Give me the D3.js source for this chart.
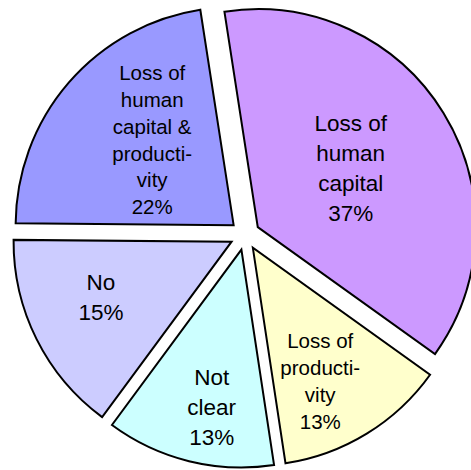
<!DOCTYPE html>
<html>
<head>
<meta charset="utf-8">
<script src="https://cdn.jsdelivr.net/npm/d3@7"></script>
<style>
  body { margin: 0; background: white; }
  text { font-family: "Liberation Sans", Arial, sans-serif; fill: #000; }
</style>
</head>
<body>
<div id="chart"></div>
<script>
// slice data, clockwise from the top
var categories = ["Loss of human capital", "Loss of productivity", "Not clear", "No", "Loss of human capital & productivity"];
var shares = [37.3, 12.7, 12.5, 15.0, 22.4];
var labelLines = [
  ["Loss of", "human", "capital"],
  ["Loss of", "producti-", "vity"],
  ["Not", "clear"],
  ["No"],
  ["Loss of", "human", "capital &", "producti-", "vity"]
];

var colors = ["#cc99ff", "#ffffcc", "#ccffff", "#ccccff", "#9999ff"];
// label layout: distance from slice tip, turn from bisector (deg), font size, line height
var labelDist = [110, 149, 160, 142, 118];
var labelTurn = [-0.8, 4.6, -3.2, 3.5, 5.5];
var fontSize = [22.5, 20.5, 22.5, 22.5, 20.5];
var lineHeight = [30, 27, 30, 30, 26.8];

var svgWidth = 471;
var svgHeight = 470;
var cx = 245, cy = 235;
var radius = 218;
var explode = 15;

var svg = d3.select("#chart")
  .append("svg")
  .attr("width", svgWidth)
  .attr("height", svgHeight)
  .attr("style", "background-color: white");

var data = categories.map(function(c, i) {
  return { name: c, value: shares[i], lines: labelLines[i], i: i };
});
var total = d3.sum(shares);

var startAngle = -8.8 * Math.PI / 180;
var pie = d3.pie()
  .sort(null)
  .value(d => d.value)
  .startAngle(startAngle)
  .endAngle(startAngle + 2 * Math.PI);

var arc = d3.arc().innerRadius(0).outerRadius(radius);

var arcs = pie(data);

var g = svg.append("g")
  .attr("transform", `translate(${cx}, ${cy})`);

function mid(d) {
  return (d.startAngle + d.endAngle) / 2;
}

var slices = g.selectAll("g.slice")
  .data(arcs)
  .enter()
  .append("g")
  .attr("class", "slice")
  .attr("transform", function(d) {
    var a = mid(d);
    return `translate(${Math.sin(a) * explode}, ${-Math.cos(a) * explode})`;
  });

slices.append("path")
  .attr("d", arc)
  .attr("fill", d => colors[d.data.i])
  .attr("stroke", "#000")
  .attr("stroke-width", 2)
  .attr("stroke-linejoin", "miter");

// labels
slices.each(function(d) {
  var i = d.data.i;
  var a = mid(d) + labelTurn[i] * Math.PI / 180;
  var lx = Math.sin(a) * labelDist[i];
  var ly = -Math.cos(a) * labelDist[i];
  var lines = d.data.lines.concat([Math.round(d.data.value / total * 100) + "%"]);
  var fs = fontSize[i], lh = lineHeight[i];
  var blockH = (lines.length - 1) * lh;
  var t = d3.select(this).append("text")
    .attr("text-anchor", "middle")
    .attr("font-size", fs + "px");
  lines.forEach(function(line, k) {
    t.append("tspan")
      .attr("x", lx)
      .attr("y", ly - blockH / 2 + k * lh + fs * 0.36)
      .text(line);
  });
});
</script>
</body>
</html>
